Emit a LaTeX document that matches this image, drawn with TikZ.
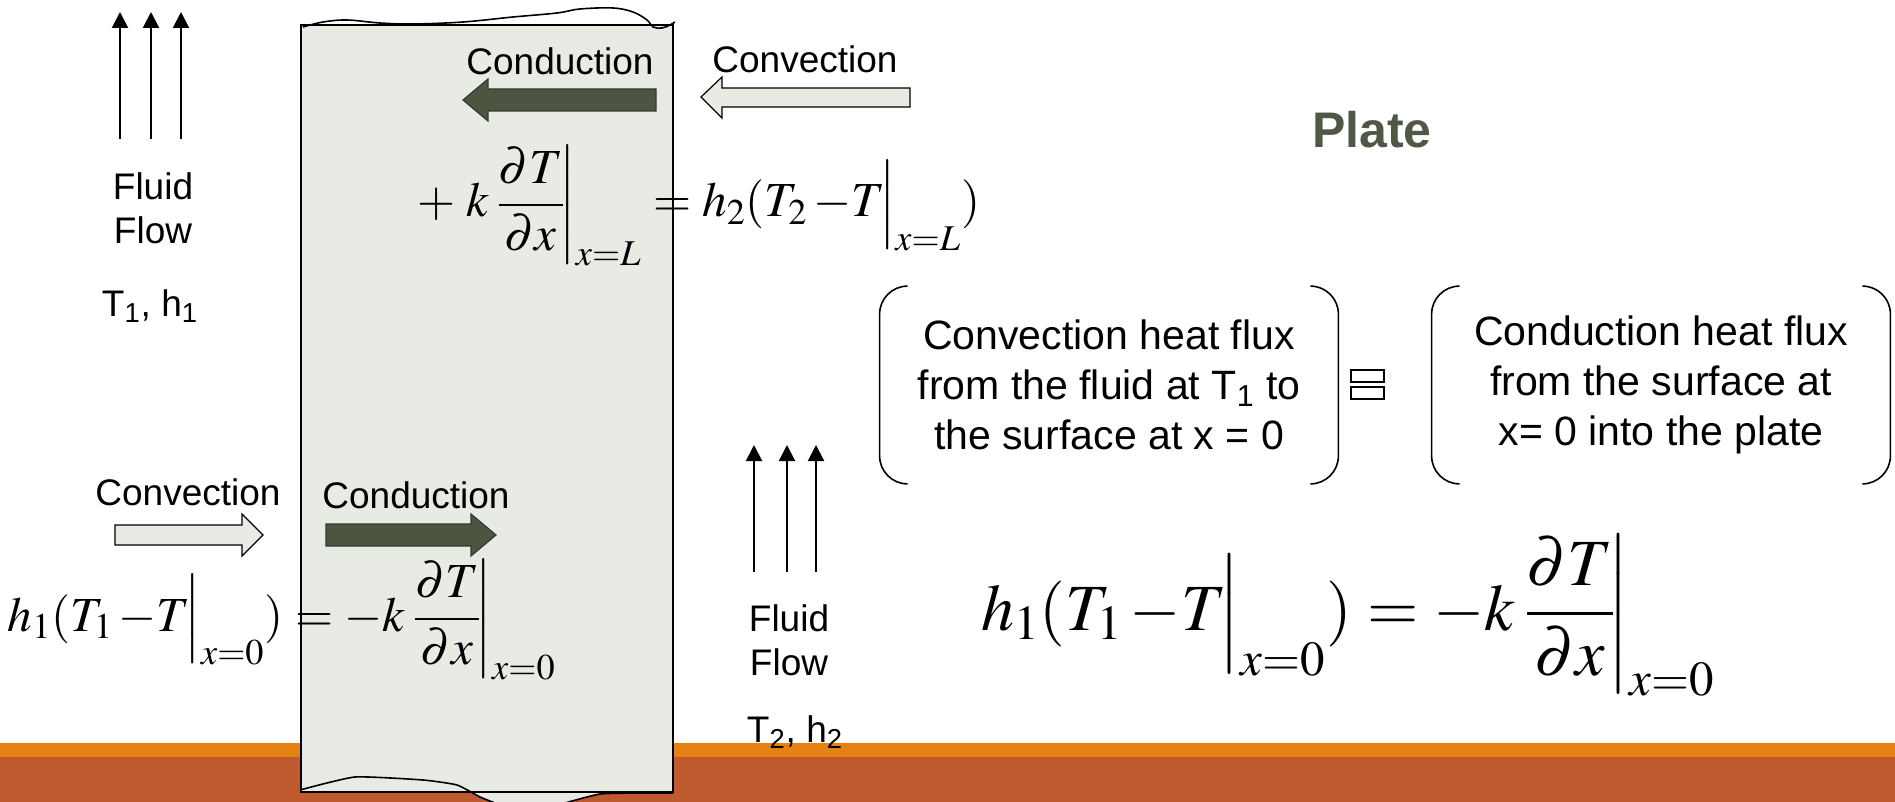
\documentclass[tikz,border=0pt]{standalone}
\usepackage{mathptmx}
\usepackage[no-math]{fontspec}
\setmainfont{Liberation Sans}
\usetikzlibrary{arrows.meta}
\definecolor{platefill}{RGB}{232,234,228}
\definecolor{olive}{RGB}{76,84,66}
\definecolor{platetext}{RGB}{79,88,69}
\definecolor{bandlight}{RGB}{228,130,20}
\definecolor{banddark}{RGB}{190,90,45}

\begin{document}
\begin{tikzpicture}[x=0.5pt,y=-0.5pt,
  lbl/.style={inner sep=0pt,align=center,font=\fontsize{18.5}{22}\selectfont},
  flux/.style={inner sep=0pt,align=center,font=\fontsize{20.5}{25}\selectfont,minimum width=229pt,minimum height=98.5pt},
  eqn/.style={inner sep=0pt,font=\fontsize{24.5}{30}\selectfont},
  bigeqn/.style={inner sep=0pt,font=\fontsize{33}{40}\selectfont},
  flow/.style={-{Triangle[width=8pt,length=8pt]},line width=1pt},
  convarr/.style={draw,line width=0.6pt,fill=platefill},
  condarr/.style={draw=olive!70!black,line width=0.6pt,fill=olive},
  bracket/.style={line width=0.8pt,rounded corners=14pt}]
\useasboundingbox (0,0) rectangle (1895,802);
% footer band
\fill[bandlight] (0,743) rectangle (1895,757);
\fill[banddark] (0,757) rectangle (1895,802);
% plate
\fill[platefill] (301,25) rectangle (673,792);
\fill[platefill] (473,792) -- (480,797) -- (495,803) -- (565,803) -- (600,794) -- (673,793) -- cycle;
\draw[line width=0.8pt] (301,25) rectangle (673,792);
\draw[line width=0.8pt] plot[smooth,tension=0.6] coordinates {(303,27) (323,22) (347,20) (380,23) (413,24) (463,22) (513,17) (557,13) (580,9) (613,8) (633,12) (647,20) (653,27) (662,28) (670,25) (675,22)};
\draw[line width=0.8pt] plot[smooth,tension=0.3] coordinates {(300,790) (355,777) (423,780) (457,785) (480,797) (495,803)};
\draw[line width=0.8pt] plot[smooth,tension=0.3] coordinates {(565,803) (600,794) (640,793) (673,793)};
% fluid streams
\foreach \x in {120,151,181} \draw[flow] (\x,139) -- (\x,12);
\foreach \x in {754,787,816} \draw[flow] (\x,572) -- (\x,445);
\node[lbl] (fluidA) at (153,208) {Fluid\\Flow};
\node[lbl] (propA) at (150,306) {T\textsubscript{1}, h\textsubscript{1}};
\node[lbl] (fluidB) at (789,640) {Fluid\\Flow};
\node[lbl] (propB) at (795,732) {T\textsubscript{2}, h\textsubscript{2}};
% heat flow arrows
\node[lbl] (condtop) at (560,61) {Conduction};
\draw[condarr] (463,100) -- (488,79) -- (488,89) -- (656,89) -- (656,111) -- (488,111) -- (488,121) -- cycle;
\node[lbl] (convtop) at (805,59) {Convection};
\draw[convarr] (701,97) -- (722,77) -- (722,88) -- (910,88) -- (910,107) -- (722,107) -- (722,118) -- cycle;
\node[lbl] (convbot) at (188,492) {Convection};
\draw[convarr] (263,535) -- (242,514) -- (242,525) -- (115,525) -- (115,545) -- (242,545) -- (242,556) -- cycle;
\node[lbl] (condbot) at (416,495) {Conduction};
\draw[condarr] (496,535) -- (471,514) -- (471,524) -- (326,524) -- (326,546) -- (471,546) -- (471,556) -- cycle;
\node[font=\fontsize{25}{30}\selectfont\bfseries,text=platetext] (title) at (1372,130) {Plate};
% boundary conditions
\node[eqn,anchor=base east] (bcLl) at (642,217) {$\displaystyle +\;k\left.\frac{\partial T}{\partial x}\!\right|_{x=L}$};
\node[eqn,anchor=base west] (bcLr) at (bcLl.base east) {$\displaystyle {}= h_2(T_2\,{-}T\!\Big|_{x=L})$};
\node[eqn,anchor=base east] (bc0l) at (284,631) {$\displaystyle h_1(T_1\,{-}T\!\Big|_{x=0})$};
\node[eqn,anchor=base west] (bc0r) at (bc0l.base east) {$\displaystyle {}= -k\left.\frac{\partial T}{\partial x}\!\right|_{x=0}$};
\node[flux] (convflux) at (1109,385) {Convection heat flux\\from the fluid at T\textsubscript{1} to\\the surface at x = 0};
\node[flux] (condflux) at (1661,385) {Conduction heat flux\\from the surface at\\x= 0 into the plate};
\draw[bracket] ([xshift=14pt]convflux.north west) -| (convflux.south west) -- ++(14pt,0);
\draw[bracket] ([xshift=-14pt]convflux.north east) -| (convflux.south east) -- ++(-14pt,0);
\draw[bracket] ([xshift=14pt]condflux.north west) -| (condflux.south west) -- ++(14pt,0);
\draw[bracket] ([xshift=-14pt]condflux.north east) -| (condflux.south east) -- ++(-14pt,0);
\draw[line width=0.6pt,fill=white] (1351,370) rectangle (1384,382);
\draw[line width=0.6pt,fill=white] (1351,387) rectangle (1384,399);
\node[bigeqn,anchor=base east] (bigl) at (1352,630) {$\displaystyle h_1(T_1\,{-}T\!\Big|_{x=0})$};
\node[bigeqn,anchor=base west] (bigr) at (bigl.base east) {$\displaystyle {}= -k\left.\frac{\partial T}{\partial x}\!\right|_{x=0}$};
\end{tikzpicture}
\end{document}
